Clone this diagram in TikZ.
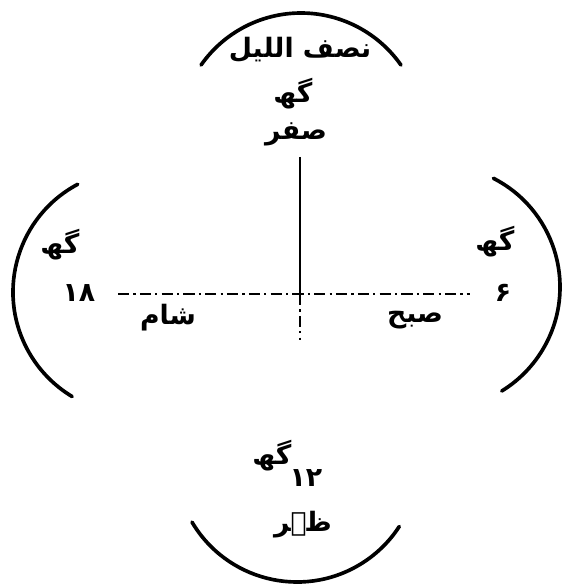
\documentclass[tikz,border=0pt]{standalone}
\usepackage{fontspec}
\newfontfamily\arabicfont[Script=Arabic]{DejaVu Sans}
\TeXXeTstate=1
\begin{document}
\begin{tikzpicture}[x=0.025cm, y=0.025cm]
        \tikzstyle{txt}=[inner sep=0pt, font=\arabicfont\bfseries\fontsize{19}{22}\selectfont];
        \tikzstyle{rim}=[line width=2.6pt, line cap=round];
        \tikzstyle{axis}=[line width=1.2pt, dash pattern=on 8pt off 3pt on 1.5pt off 3pt];

        \useasboundingbox (0,0) rectangle (563,588);

        % axes
        \coordinate (centre) at (300,294);
        \coordinate (north) at (300,431);
        \coordinate (south) at (300,248);
        \coordinate (west) at (118,294);
        \coordinate (east) at (470,294);
        \draw[line width=2pt] (north) -- (centre);
        \draw[axis] (centre) -- (south);
        \draw[axis] (west) -- (east);

        % rims
        \draw[rim] (301,453) ++(145:122) arc (145:35:122);
        \draw[rim] (438,301) ++(63:122) arc (63:-58.5:122);
        \draw[rim] (297,128) ++(210.6:122) arc (210.6:327:122);
        \draw[rim] (135,296) ++(118:122) arc (118:239:122);

        % hours
        \node[txt] (midnight) at (300,538) {\beginR نصف اللیل\endR};
        \node[txt] (zerogh) at (293,494) {\beginR گھ\endR};
        \node[txt] (zero) at (296,454) {\beginR صفر\endR};
        \node[txt] (morninggh) at (495,346) {\beginR گھ\endR};
        \node[txt] (six) at (503,295) {۶};
        \node[txt] (morning) at (415,268) {\beginR صبح\endR};
        \node[txt] (noongh) at (272,132) {\beginR گھ\endR};
        \node[txt] (twelve) at (306,110) {۱۲};
        \node[txt] (noon) at (303,63) {\beginR ظہر\endR};
        \node[txt] (eveninggh) at (60,343) {\beginR گھ\endR};
        \node[txt] (eighteen) at (79,295) {۱۸};
        \node[txt] (evening) at (168,270) {\beginR شام\endR};
    \end{tikzpicture}
\end{document}
